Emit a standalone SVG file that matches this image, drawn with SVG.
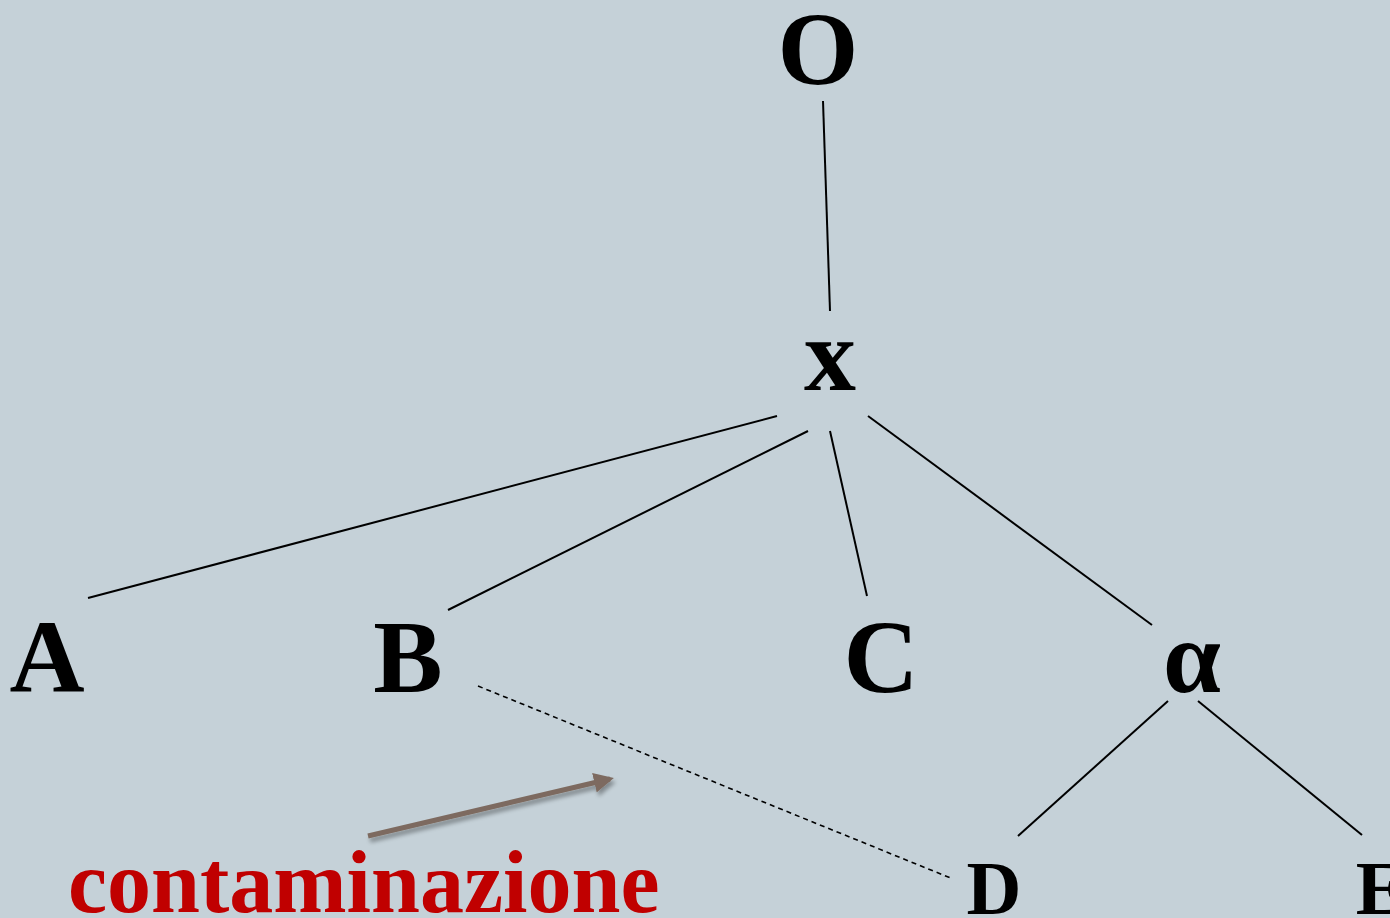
<svg xmlns="http://www.w3.org/2000/svg" width="1390" height="918" viewBox="0 0 1390 918">
<style>
.n{font-family:"Liberation Serif","Times New Roman",serif;font-weight:bold;font-size:104px;fill:#000;text-anchor:middle}
.s{font-size:76px}
.e{stroke:#000;stroke-width:2;fill:none}
.d{stroke:#000;stroke-width:1.6;fill:none;stroke-dasharray:5,4}
.lbl{font-family:"Liberation Serif","Times New Roman",serif;font-weight:bold;font-size:88px;fill:#c00000}
</style>
<defs>
<marker id="ah" viewBox="0 0 10 10" refX="8" refY="5" markerWidth="4" markerHeight="4" orient="auto" markerUnits="strokeWidth">
<path d="M0,0 L10,5 L0,10 z" fill="#7d6b60"/>
</marker>
<filter id="sh" x="-10%" y="-50%" width="120%" height="200%">
<feGaussianBlur in="SourceAlpha" stdDeviation="2"/>
<feOffset dx="2" dy="4"/>
<feComponentTransfer><feFuncA type="linear" slope="0.35"/></feComponentTransfer>
<feMerge><feMergeNode/><feMergeNode in="SourceGraphic"/></feMerge>
</filter>
</defs>
<rect width="1390" height="918" fill="#c5d1d8"/>
<g id="connectors">
<line class="e" x1="823" y1="101" x2="830" y2="311"/>
<line class="e" x1="777" y1="416" x2="88" y2="598"/>
<line class="e" x1="808" y1="431" x2="448" y2="610"/>
<line class="e" x1="830" y1="431" x2="867" y2="596"/>
<line class="e" x1="868" y1="416" x2="1152" y2="625"/>
<line class="e" x1="1168" y1="701" x2="1018" y2="836"/>
<line class="e" x1="1198" y1="701" x2="1362" y2="835"/>
<line class="d" x1="478" y1="686" x2="953" y2="879"/>
<line x1="368" y1="836" x2="610" y2="779" stroke="#7d6b60" stroke-width="5" marker-end="url(#ah)" filter="url(#sh)"/>
</g>
<g id="node-O"><text class="n" x="818" y="84">O</text></g>
<g id="node-x"><text class="n" x="830" y="390">x</text></g>
<g id="node-A"><text class="n" x="47" y="692">A</text></g>
<g id="node-B"><text class="n" x="408" y="692">B</text></g>
<g id="node-C"><text class="n" x="881" y="692">C</text></g>
<g id="node-alpha"><text class="n" x="1192" y="692">α</text></g>
<g id="node-D"><text class="n s" x="994" y="914">D</text></g>
<g id="node-E"><text class="n s" x="1381" y="914">E</text></g>
<g id="label"><text class="lbl" x="68" y="912">contaminazione</text></g>
</svg>
